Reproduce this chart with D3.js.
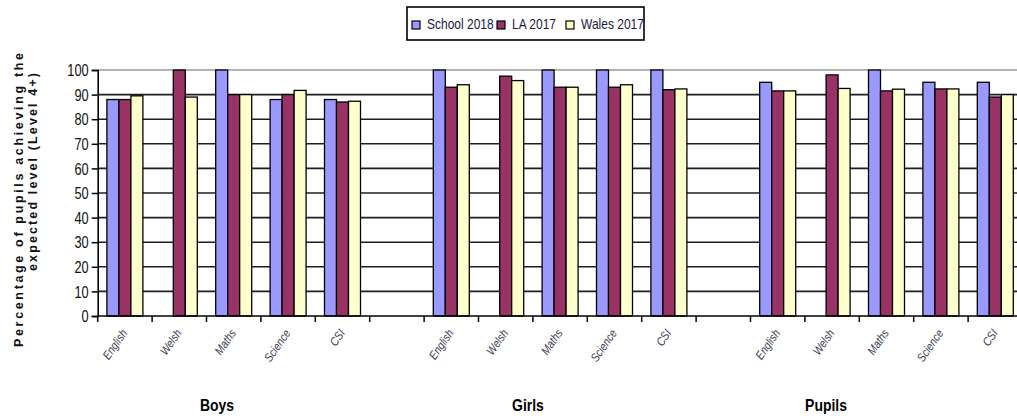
<!DOCTYPE html>
<html>
<head>
<meta charset="utf-8">
<script src="https://cdn.jsdelivr.net/npm/d3@7"></script>
<style>
  html, body { margin: 0; padding: 0; background: #fff; }
  svg { display: block; }
</style>
</head>
<body>
<svg id="chart" width="1017" height="418"></svg>
<script>
// Key Stage results by group and subject
const groups = ["Boys", "Girls", "Pupils"];
const subjects = ["English", "Welsh", "Maths", "Science", "CSI"];
const seriesNames = ["School 2018", "LA 2017", "Wales 2017"];
const seriesColors = ["#9999ff", "#993366", "#ffffcc"];

// values listed Boys (5 subjects), Girls (5), Pupils (5); null = no value
const school2018 = [88, null, 100, 88, 88,   100, null, 100, 100, 100,   95, null, 100, 95, 95];
const la2017     = [88, 100,  90,  90, 87,   93,  97.5, 93,  93,  92,    91.5, 98, 91.5, 92.3, 89];
const wales2017  = [89.5, 89, 90,  91.7, 87.3, 94, 95.7, 93,  94,  92.3,  91.5, 92.5, 92.2, 92.3, 90];

const yTicks = [0, 10, 20, 30, 40, 50, 60, 70, 80, 90, 100];
const yTitle = ["Percentage of pupils achieving the", "expected level (Level 4+)"];

const FONT = "Liberation Sans, Arial, sans-serif";
const svg = d3.select("#chart");

// Condense a text element horizontally (narrow face substitute)
function condense(sel, factor) {
  sel.each(function () {
    const w = this.getComputedTextLength();
    d3.select(this).attr("textLength", w * factor).attr("lengthAdjust", "spacingAndGlyphs");
  });
}

// Category slots: each group's subjects followed by an empty spacer slot
const slots = [];
groups.forEach((g, gi) => {
  subjects.forEach(s => slots.push({ key: g + "|" + s, group: g, subject: s }));
  if (gi < groups.length - 1) slots.push({ key: "gap" + gi, group: null, subject: "" });
});

const plotLeft = 97.7, plotRight = 1022.5, plotTop = 70, plotBottom = 316;

const x0 = d3.scaleBand().domain(slots.map(d => d.key)).range([plotLeft, plotRight]).padding(0);
const x1 = d3.scaleBand().domain(seriesNames).range([9.2, 45.2]).padding(0);
const y = d3.scaleLinear().domain([0, 100]).range([plotBottom, plotTop]);

// Horizontal gridlines
svg.append("g").selectAll("line").data(yTicks.filter(t => t > 0)).join("line")
  .attr("x1", plotLeft).attr("x2", plotRight)
  .attr("y1", d => y(d)).attr("y2", d => y(d))
  .attr("stroke", d => d === 100 ? "#9a9a9a" : "#1e1e1e")
  .attr("stroke-width", 1.6);

// Bars
const valueSeries = [school2018, la2017, wales2017];
const barData = [];
groups.forEach((g, gi) => {
  subjects.forEach((s, si) => {
    const idx = gi * subjects.length + si;
    seriesNames.forEach((name, k) => {
      const v = valueSeries[k][idx];
      if (v != null) barData.push({ key: g + "|" + s, series: name, color: seriesColors[k], value: v });
    });
  });
});

svg.append("g").selectAll("rect").data(barData).join("rect")
  .attr("x", d => x0(d.key) + x1(d.series))
  .attr("y", d => y(d.value))
  .attr("width", x1.bandwidth())
  .attr("height", d => y(0) - y(d.value))
  .attr("fill", d => d.color)
  .attr("stroke", "#000")
  .attr("stroke-width", 1.3);

// Y axis
const yAxis = d3.axisLeft(y).tickValues(yTicks).tickSize(6).tickPadding(3);
const yg = svg.append("g").attr("transform", `translate(${plotLeft},0)`).call(yAxis);
yg.attr("font-family", FONT);
yg.select(".domain").attr("stroke", "#000").attr("stroke-width", 1.6);
yg.selectAll(".tick line").attr("stroke", "#000").attr("stroke-width", 1.5);
yg.selectAll(".tick text")
  .attr("font-size", 16)
  .attr("fill", "#111")
  .attr("dy", "0.36em")
  .call(condense, 0.8);

// X axis: tick marks on slot boundaries
const boundaries = slots.map(d => x0(d.key)).concat([plotRight]);
svg.append("line")
  .attr("x1", plotLeft).attr("x2", plotRight)
  .attr("y1", plotBottom).attr("y2", plotBottom)
  .attr("stroke", "#000").attr("stroke-width", 1.6);
svg.append("g").selectAll("line").data(boundaries).join("line")
  .attr("x1", d => d).attr("x2", d => d)
  .attr("y1", plotBottom).attr("y2", plotBottom + 6)
  .attr("stroke", "#000").attr("stroke-width", 1.5);

// Rotated subject labels
svg.append("g").selectAll("text").data(slots.filter(d => d.group)).join("text")
  .attr("transform", d => `translate(${x0(d.key) + x0.bandwidth() / 2 + 3},${plotBottom + 17}) rotate(-55)`)
  .attr("text-anchor", "end")
  .attr("font-family", FONT)
  .attr("font-style", "italic")
  .attr("font-size", 12)
  .attr("fill", "#3a3a52")
  .text(d => d.subject)
  .call(condense, 0.85);

// Group titles
const groupTitleX = { Boys: 217, Girls: 528, Pupils: 826 };
svg.append("g").selectAll("text").data(groups).join("text")
  .attr("x", d => groupTitleX[d])
  .attr("y", 411)
  .attr("text-anchor", "middle")
  .attr("font-family", FONT)
  .attr("font-size", 17)
  .attr("font-weight", "bold")
  .attr("fill", "#000")
  .text(d => d)
  .call(condense, 0.82);

// Y axis title (two rotated lines)
const yTitleLayout = [{ x: 22.5, cy: 200, len: 294 }, { x: 36.5, cy: 172, len: 198 }];
svg.append("g").selectAll("text").data(yTitle).join("text")
  .attr("transform", (d, i) => `translate(${yTitleLayout[i].x},${yTitleLayout[i].cy}) rotate(-90)`)
  .attr("text-anchor", "middle")
  .attr("font-family", FONT)
  .attr("font-weight", "bold")
  .attr("font-size", 12.5)
  .attr("fill", "#111")
  .attr("textLength", (d, i) => yTitleLayout[i].len)
  .attr("lengthAdjust", "spacing")
  .text(d => d);

// Legend
const legend = svg.append("g");
legend.append("rect")
  .attr("x", 407).attr("y", 7).attr("width", 237).attr("height", 33)
  .attr("fill", "#fff").attr("stroke", "#000").attr("stroke-width", 1.6);
const legendX = [412, 497, 566];
const items = legend.selectAll("g").data(seriesNames).join("g")
  .attr("transform", (d, i) => `translate(${legendX[i]},0)`);
items.append("rect")
  .attr("x", 0).attr("y", 21).attr("width", 8).attr("height", 8)
  .attr("fill", (d, i) => seriesColors[i]).attr("stroke", "#000").attr("stroke-width", 1.2);
items.append("text")
  .attr("x", 15).attr("y", 29)
  .attr("font-family", FONT)
  .attr("font-size", 15)
  .attr("fill", "#1a1a40")
  .text(d => d)
  .call(condense, 0.8);
</script>
</body>
</html>
